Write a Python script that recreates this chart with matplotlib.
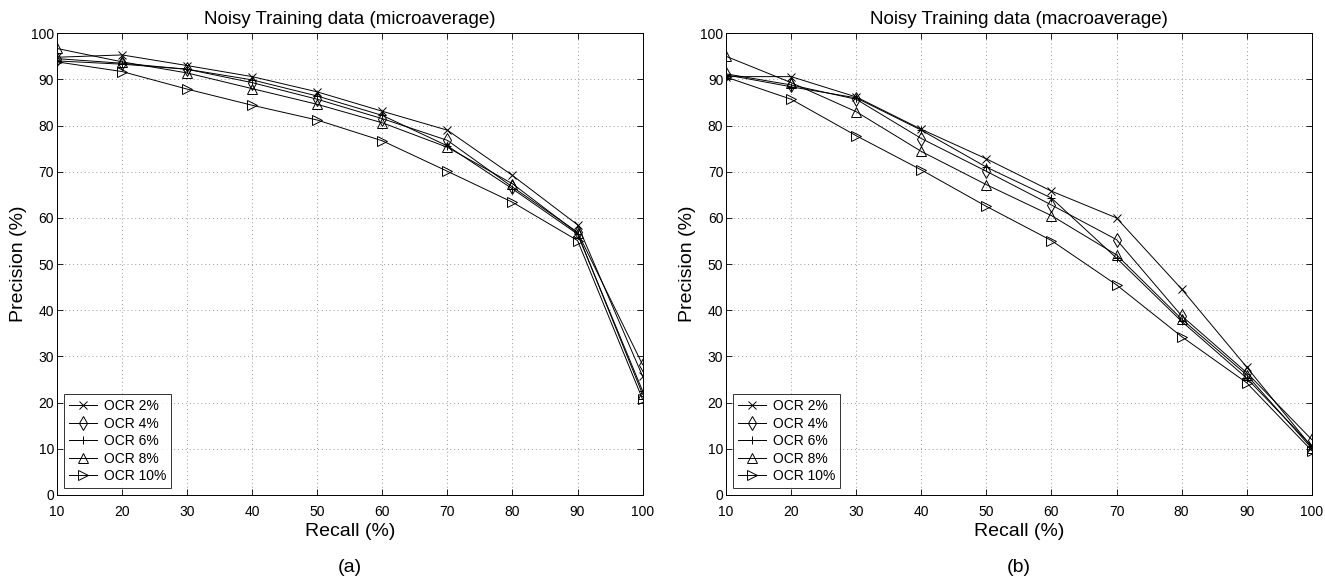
import matplotlib.pyplot as plt

plt.rcParams['font.family'] = ['Liberation Sans', 'DejaVu Sans']

recall = [10, 20, 30, 40, 50, 60, 70, 80, 90, 100]
labels = ['OCR 2%', 'OCR 4%', 'OCR 6%', 'OCR 8%', 'OCR 10%']
markers = ['x', 'd', '+', '^', '>']

# microaverage
micro_ocr2 = [94.8, 95.3, 93.0, 90.6, 87.3, 83.1, 79.0, 69.2, 58.5, 25.7]
micro_ocr4 = [94.5, 93.5, 92.2, 89.3, 85.7, 81.5, 76.8, 66.7, 56.9, 28.2]
micro_ocr6 = [94.0, 93.3, 92.2, 89.9, 86.4, 82.2, 75.6, 66.3, 56.5, 22.5]
micro_ocr8 = [96.7, 93.8, 91.4, 88.0, 84.6, 80.6, 75.3, 67.4, 56.7, 21.8]
micro_ocr10 = [93.8, 91.7, 87.9, 84.4, 81.2, 76.7, 70.1, 63.4, 55.1, 20.7]

# macroaverage
macro_ocr2 = [90.6, 90.6, 86.2, 79.2, 72.8, 65.8, 60.0, 44.6, 27.7, 10.4]
macro_ocr4 = [91.2, 88.8, 85.7, 77.2, 70.1, 62.8, 55.3, 38.8, 26.5, 12.0]
macro_ocr6 = [91.0, 88.4, 86.0, 79.0, 71.0, 64.3, 51.3, 37.6, 25.3, 10.6]
macro_ocr8 = [95.0, 89.3, 83.0, 74.4, 67.2, 60.5, 52.0, 38.1, 26.0, 10.1]
macro_ocr10 = [90.5, 85.7, 77.8, 70.4, 62.5, 55.1, 45.5, 34.3, 24.3, 9.6]

micro = [micro_ocr2, micro_ocr4, micro_ocr6, micro_ocr8, micro_ocr10]
macro = [macro_ocr2, macro_ocr4, macro_ocr6, macro_ocr8, macro_ocr10]

fig = plt.figure(figsize=(13.25, 5.83), dpi=100)
ax1 = fig.add_axes([0.043, 0.151, 0.442, 0.792])
ax2 = fig.add_axes([0.548, 0.151, 0.442, 0.792])

panels = [(ax1, micro, 'Noisy Training data (microaverage)', '(a)'),
          (ax2, macro, 'Noisy Training data (macroaverage)', '(b)')]

for ax, series, title, tag in panels:
    for vals, lab, m in zip(series, labels, markers):
        ax.plot(recall, vals, color='black', linewidth=0.7, marker=m,
                markersize=6 if m in ('x', '+') else 7, markerfacecolor='none',
                markeredgecolor='black', markeredgewidth=0.7, label=lab)
    ax.set_xlim(10, 100)
    ax.set_ylim(0, 100)
    ax.set_xticks(range(10, 101, 10))
    ax.set_yticks(range(0, 101, 10))
    ax.tick_params(labelsize=10, direction='in', length=4, width=0.6,
                   top=True, right=True)
    ax.tick_params(axis='x', pad=7)
    ax.tick_params(axis='y', pad=2)
    ax.grid(True, linestyle=(0, (1, 3)), color='#999999', linewidth=0.7)
    for s in ax.spines.values():
        s.set_linewidth(0.7)
    ax.set_title(title, fontsize=13.5, pad=7)
    ax.set_xlabel('Recall (%)', fontsize=14, labelpad=3)
    ax.set_ylabel('Precision (%)', fontsize=14, labelpad=3)
    leg = ax.legend(loc='lower left', fontsize=10, frameon=True, fancybox=False,
                    edgecolor='black', borderpad=0.35, labelspacing=0.25,
                    handlelength=2.0, handletextpad=0.5, borderaxespad=0.5)
    leg.get_frame().set_linewidth(0.7)
    pos = ax.get_position()
    fig.text((pos.x0 + pos.x1) / 2, 1 - 567 / 583, tag, ha='center', va='center',
             fontsize=14)

fig.savefig('out.png', dpi=100)
